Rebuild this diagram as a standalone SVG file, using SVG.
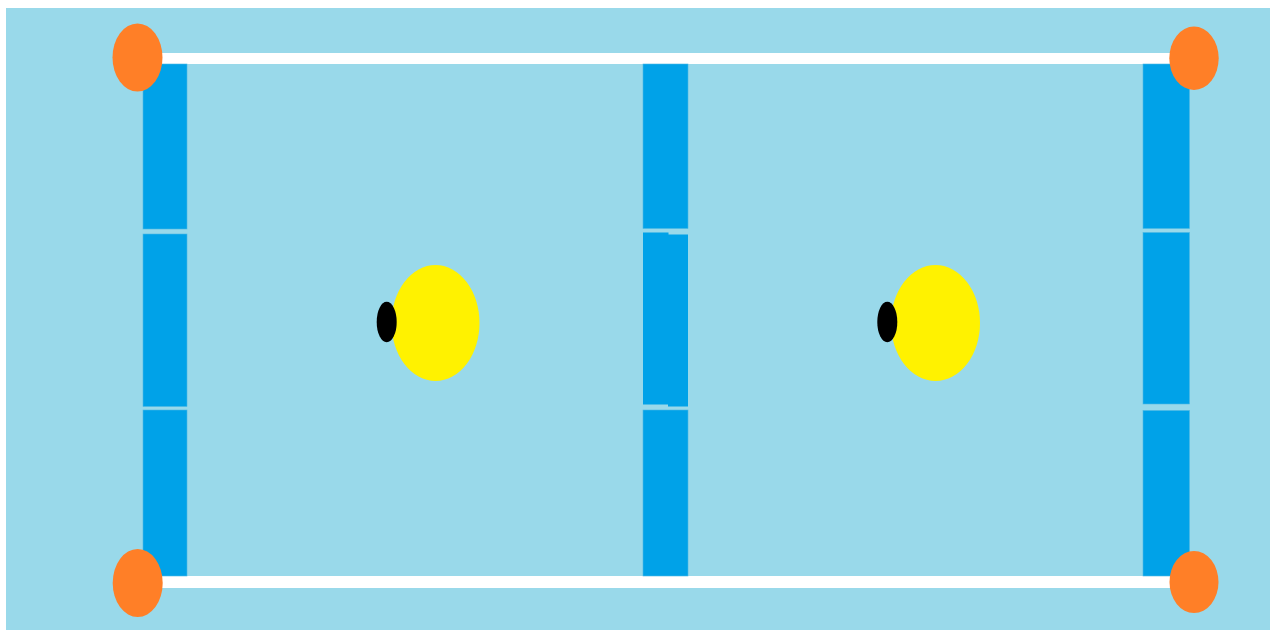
<svg xmlns="http://www.w3.org/2000/svg" width="1270" height="630" viewBox="0 0 1270 630">
<style>
.bar{fill:#00A2E8;stroke:#4cb8e4;stroke-width:0.6}
.seg{fill:#00A2E8}
.line{fill:#FFFFFF}
.post{fill:#FF7F27}
.ball{fill:#FFF200}
.eye{fill:#000000}
</style>
<rect x="0" y="0" width="1270" height="630" fill="#FFFFFF"/>
<rect x="6" y="8" width="1264" height="622" fill="#99D9EA"/>
<g id="connectors">
<rect class="line" x="150" y="53" width="1050" height="11"/>
<rect class="line" x="150" y="576" width="1050" height="12"/>
</g>
<g id="left-bar">
<rect class="bar" x="143" y="64" width="44" height="165"/>
<rect class="bar" x="143" y="234" width="44" height="172.5"/>
<rect class="bar" x="143" y="410" width="44" height="166"/>
</g>
<g id="middle-bar">
<rect class="bar" x="643" y="64" width="45" height="164.5"/>
<rect class="seg" x="643" y="232.5" width="25.5" height="172"/>
<rect class="seg" x="668" y="234.5" width="20" height="172"/>
<rect class="bar" x="643" y="410" width="45" height="166"/>
</g>
<g id="right-bar">
<rect class="bar" x="1143" y="64" width="46.5" height="164.5"/>
<rect class="bar" x="1143" y="232.5" width="46.5" height="171.5"/>
<rect class="bar" x="1143" y="410.5" width="46.5" height="165.5"/>
</g>
<g id="post-tl"><ellipse class="post" cx="137.5" cy="57.5" rx="25" ry="34"/></g>
<g id="post-tr"><ellipse class="post" cx="1194" cy="58.3" rx="24.7" ry="31.7"/></g>
<g id="post-bl"><ellipse class="post" cx="137.7" cy="583" rx="25" ry="34"/></g>
<g id="post-br"><ellipse class="post" cx="1194" cy="582" rx="24.5" ry="31"/></g>
<g id="ball-left">
<ellipse class="ball" cx="435.5" cy="323" rx="44" ry="58"/>
<ellipse class="eye" cx="386.7" cy="322" rx="10" ry="20.3"/>
</g>
<g id="ball-right">
<ellipse class="ball" cx="935.5" cy="323" rx="44.5" ry="58"/>
<ellipse class="eye" cx="887.3" cy="322" rx="10" ry="20.3"/>
</g>
</svg>
